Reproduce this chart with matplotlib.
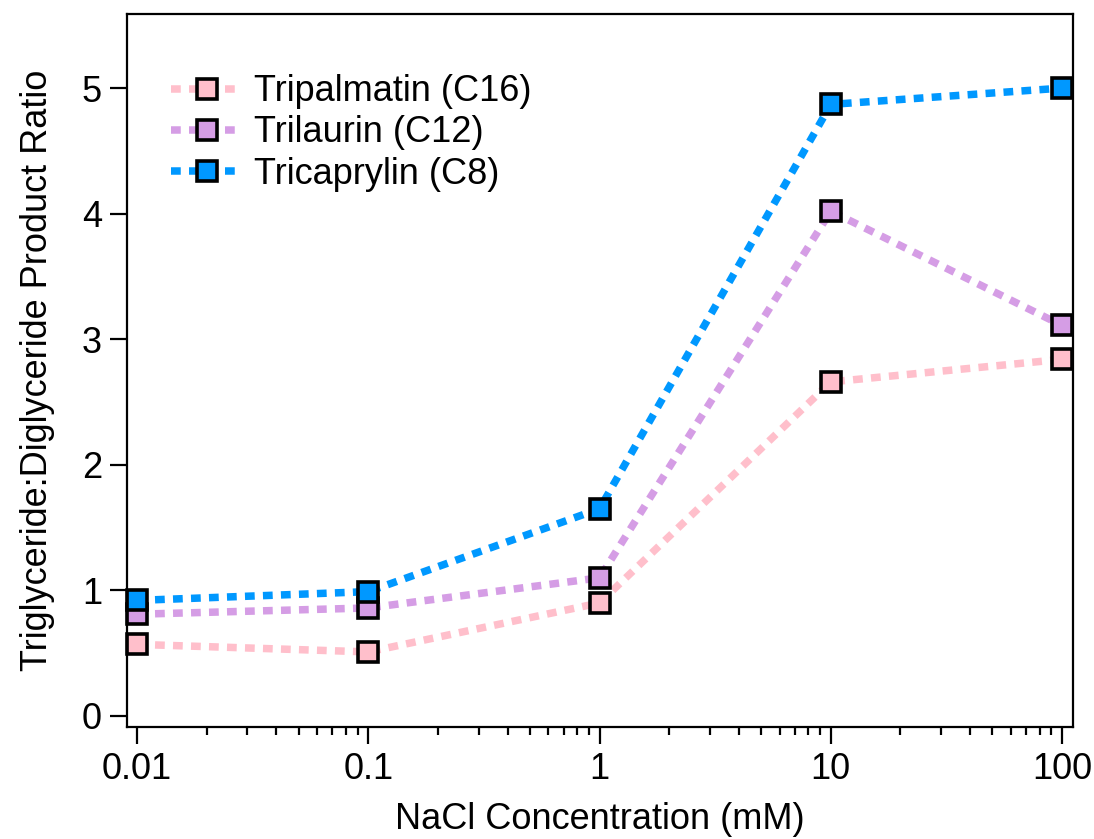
import numpy as np
import matplotlib.pyplot as plt
from matplotlib.ticker import LogLocator, FixedLocator, NullFormatter

plt.rcParams['font.family'] = ['Liberation Sans', 'DejaVu Sans']

nacl = [0.01, 0.1, 1, 10, 100]
tripalmatin = [0.57, 0.51, 0.90, 2.66, 2.84]
trilaurin = [0.81, 0.86, 1.10, 4.02, 3.11]
tricaprylin = [0.92, 0.99, 1.65, 4.87, 5.00]

names = ['Tripalmatin (C16)', 'Trilaurin (C12)', 'Tricaprylin (C8)']
colors = ['#FFBFCB', '#D59DE5', '#0098FF']

fig = plt.figure(figsize=(10.94, 8.39), dpi=100)
ax = fig.add_axes([0.1161, 0.1335, 0.8647, 0.8498])

for ys, name, c in zip([tripalmatin, trilaurin, tricaprylin], names, colors):
    ax.plot(nacl, ys, color=c, lw=5.4, dashes=(1.3, 1.1),
            marker='s', ms=14, mfc=c, mec='black', mew=2.6,
            label=name, clip_on=False)

ax.set_xscale('log')
ax.set_xlim(0.00905, 111.5)
ax.set_ylim(-0.088, 5.59)

ax.xaxis.set_major_locator(FixedLocator(nacl))
ax.set_xticklabels(['0.01', '0.1', '1', '10', '100'])
ax.xaxis.set_minor_locator(LogLocator(base=10, subs=np.arange(2, 10)))
ax.xaxis.set_minor_formatter(NullFormatter())
ax.set_yticks([0, 1, 2, 3, 4, 5])

ax.tick_params(axis='both', which='major', direction='out', length=12,
               width=1.6, labelsize=26, pad=6, color='black')
ax.tick_params(axis='x', which='minor', direction='out', length=6, width=1.6)
for s in ax.spines.values():
    s.set_linewidth(1.6)

ax.set_xlabel('NaCl Concentration (mM)', fontsize=26, labelpad=11)
ax.set_ylabel('Triglyceride:Diglyceride Product Ratio', fontsize=26, labelpad=19)

ax.legend(loc='upper left', bbox_to_anchor=(0.012, 0.961), frameon=False,
          fontsize=26, handlelength=2.0, labelspacing=0.17, handletextpad=0.3)

fig.savefig('out.png', dpi=100)
